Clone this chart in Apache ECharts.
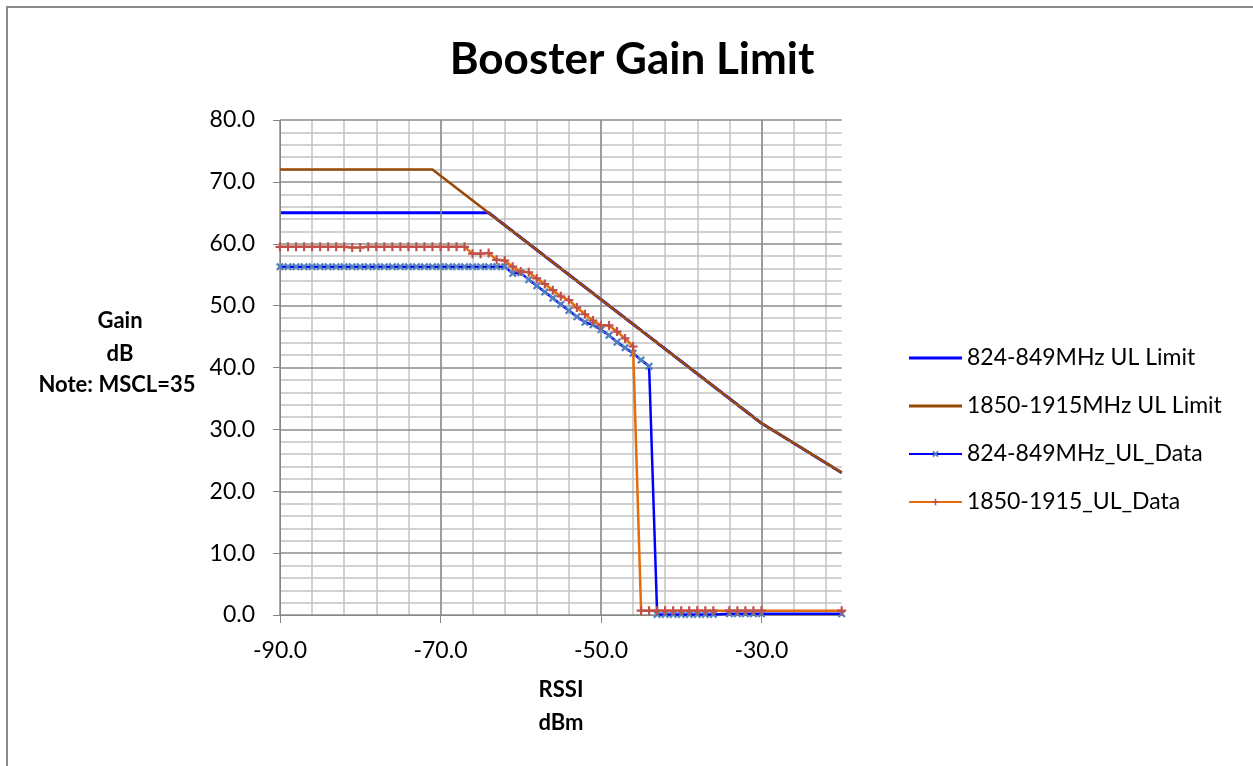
<!DOCTYPE html>
<html>
<head>
<meta charset="utf-8">
<script src="https://cdn.jsdelivr.net/npm/echarts@6/dist/echarts.min.js"></script>
<style>
html,body{margin:0;padding:0;background:#fff;}
#chart{width:1253px;height:766px;}
</style>
</head>
<body>
<div id="chart"></div>
<script>
// ---- data ----
const rssi = [-90,-89,-88,-87,-86,-85,-84,-83,-82,-81,-80,-79,-78,-77,-76,-75,-74,-73,-72,-71,
  -70,-69,-68,-67,-66,-65,-64,-63,-62,-61,-60,-59,-58,-57,-56,-55,-54,-53,-52,-51,
  -50,-49,-48,-47,-46,-45,-44,-43,-42,-41,-40,-39,-38,-37,-36,-34,-33,-32,-31,-30,-20];
const data824 = [56.3,56.3,56.3,56.3,56.3,56.3,56.3,56.3,56.3,56.3,56.3,56.3,56.3,56.3,56.3,56.3,56.3,56.3,56.3,56.3,
  56.3,56.3,56.3,56.3,56.3,56.3,56.3,56.3,56.3,55.2,55.3,54.2,53.2,52.2,51.2,50.2,49.2,48.2,47.3,46.9,
  46.1,45.2,44.1,43.2,42.3,41.2,40.2,0.1,0.1,0.1,0.1,0.1,0.1,0.1,0.1,0.2,0.2,0.2,0.2,0.2,0.2];
const data1850 = [59.5,59.5,59.5,59.5,59.5,59.5,59.5,59.5,59.5,59.4,59.4,59.5,59.5,59.5,59.5,59.5,59.5,59.5,59.5,59.5,
  59.5,59.5,59.5,59.5,58.4,58.4,58.5,57.4,57.3,56.3,55.5,55.4,54.4,53.5,52.5,51.5,50.9,49.7,48.6,47.6,
  46.8,46.8,45.8,44.7,43.4,0.7,0.7,0.7,0.7,0.7,0.7,0.7,0.7,0.7,0.7,0.7,0.7,0.7,0.7,0.7,0.7];
const limitRssi824 = [-90,-64,-30,-20];
const limit824 = [65,65,31,23];
const limitRssi1850 = [-90,-71,-30,-20];
const limit1850 = [72,72,31,23];
const xMajorTicks = [-90,-70,-50,-30];
const seriesNames = ['824-849MHz UL Limit','1850-1915MHz UL Limit','824-849MHz_UL_Data','1850-1915_UL_Data'];

function zip(xs, ys){ return xs.map((x,i)=>[x, ys[i]]); }

const FONT = 'Lato';
const crossSym = 'path://M0,2L2,0L5,3L8,0L10,2L7,5L10,8L8,10L5,7L2,10L0,8L3,5Z';
const plusSym = 'path://M3.8,0H6.2V3.8H10V6.2H6.2V10H3.8V6.2H0V3.8H3.8Z';
const lineIcon = 'path://M0,0H53V3H0Z';

const chart = echarts.init(document.getElementById('chart'), null, {renderer:'canvas'});
chart.setOption({
  animation:false,
  backgroundColor:'#fff',
  textStyle:{fontFamily:FONT},
  grid:{left:280, top:120, width:561.7, height:495, containLabel:false},
  legend:{
    orient:'vertical', left:908, top:344, padding:0,
    itemWidth:53, itemHeight:8, itemGap:20,
    textStyle:{fontFamily:FONT, fontSize:23, color:'#000', lineHeight:28},
    data:[{name:seriesNames[0], icon:lineIcon},{name:seriesNames[1], icon:lineIcon},
          {name:seriesNames[2]},{name:seriesNames[3]}]
  },
  xAxis:[{
    type:'value', min:-90, max:-20, interval:20, z:3,
    axisLine:{show:true, onZero:false, lineStyle:{color:'#868686', width:1}},
    axisTick:{show:true, length:8, customValues:xMajorTicks, lineStyle:{color:'#868686'}},
    axisLabel:{customValues:xMajorTicks, margin:24, fontFamily:FONT, fontSize:23, color:'#000',
      formatter:v=>Number(v).toFixed(1)},
    splitLine:{show:true, lineStyle:{color:'#8c8c8c', width:1.5}}
  },{
    type:'value', min:-90, max:-20, interval:4, z:1,
    axisLine:{show:false}, axisTick:{show:false}, axisLabel:{show:false},
    splitLine:{show:true, showMaxLine:false, showMinLine:false, lineStyle:{color:'#c3c3c3', width:1.5}}
  }],
  yAxis:[{
    type:'value', min:0, max:80, interval:10, z:3,
    axisLine:{show:true, onZero:false, lineStyle:{color:'#868686', width:1}},
    axisTick:{show:true, length:7, lineStyle:{color:'#868686'}},
    axisLabel:{margin:25, fontFamily:FONT, fontSize:23, color:'#000', formatter:v=>Number(v).toFixed(1)},
    splitLine:{show:true, lineStyle:{color:'#8c8c8c', width:1.5}},
    minorTick:{show:false, splitNumber:5},
    minorSplitLine:{show:true, lineStyle:{color:'#c3c3c3', width:1.5}}
  }],
  series:[
    {name:seriesNames[0], type:'line', xAxisIndex:0, data:zip(limitRssi824, limit824),
      symbol:'none', lineStyle:{color:'#0000ff', width:3}, itemStyle:{color:'#0000ff'}, z:2},
    {name:seriesNames[1], type:'line', xAxisIndex:0, data:zip(limitRssi1850, limit1850),
      symbol:'none', lineStyle:{color:'#984807', width:2.5}, itemStyle:{color:'#984807'}, z:3},
    {name:seriesNames[2], type:'line', xAxisIndex:0, data:zip(rssi, data824),
      symbol:crossSym, symbolSize:8, showAllSymbol:true,
      lineStyle:{color:'#0000ff', width:2.5}, itemStyle:{color:'#4f81bd'}, z:4},
    {name:seriesNames[3], type:'line', xAxisIndex:0, data:zip(rssi, data1850),
      symbol:plusSym, symbolSize:9, showAllSymbol:true,
      lineStyle:{color:'#e46c0a', width:2.5}, itemStyle:{color:'#c0504d'}, z:5}
  ],
  graphic:[
    {type:'polyline', silent:true, shape:{points:[[7,766],[7,7],[1253,7]]},
      style:{stroke:'#898989', lineWidth:2, fill:null}},
    {type:'text', x:632, y:60, style:{text:'Booster Gain Limit', font:'bold 44px '+FONT,
      fill:'#000', align:'center', verticalAlign:'middle'}},
    {type:'text', x:120, y:321, style:{text:'Gain', font:'bold 22px '+FONT, fill:'#000', align:'center', verticalAlign:'middle'}},
    {type:'text', x:120, y:354, style:{text:'dB', font:'bold 22px '+FONT, fill:'#000', align:'center', verticalAlign:'middle'}},
    {type:'text', x:117, y:385, style:{text:'Note: MSCL=35', font:'bold 22px '+FONT, fill:'#000', align:'center', verticalAlign:'middle'}},
    {type:'text', x:561, y:690, style:{text:'RSSI', font:'bold 22px '+FONT, fill:'#000', align:'center', verticalAlign:'middle'}},
    {type:'text', x:561, y:723, style:{text:'dBm', font:'bold 22px '+FONT, fill:'#000', align:'center', verticalAlign:'middle'}}
  ]
});
</script>
</body>
</html>
